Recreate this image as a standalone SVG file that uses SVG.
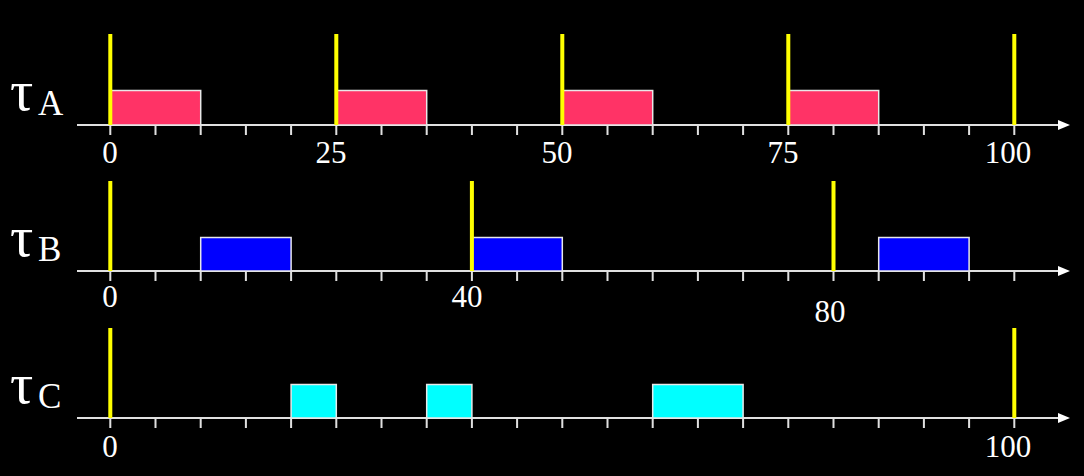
<svg xmlns="http://www.w3.org/2000/svg" width="1084" height="476" viewBox="0 0 1084 476">
<style>
.axis{stroke:#e0e0e0;stroke-width:2;fill:none}
.tick{stroke:#e0e0e0;stroke-width:2}
.rel{stroke:#ffff00;stroke-width:4}
.job{stroke:#e8e8e8;stroke-width:1.5}
.a{fill:#ff3366}.b{fill:#0000ff}.c{fill:#00ffff}
.num{font-family:"Liberation Serif",serif;font-size:31px;fill:#ffffff;text-anchor:middle}
.tau{font-family:"Liberation Serif","DejaVu Serif",serif;font-size:58px;fill:#ffffff}
.sub{font-family:"Liberation Serif",serif;font-size:35px;fill:#ffffff}
</style>
<defs>
<marker id="arr" viewBox="0 0 12 10" refX="0" refY="5" markerWidth="12" markerHeight="10" markerUnits="userSpaceOnUse" orient="auto">
<path d="M0,0 L12,5 L0,10 Z" fill="#ffffff"/>
</marker>
<g id="ticks">
<path class="tick" d="M110.3,0v10M155.5,0v10M200.7,0v10M245.9,0v10M291.1,0v10M336.3,0v10M381.5,0v10M426.7,0v10M471.9,0v10M517.1,0v10M562.3,0v10M607.5,0v10M652.7,0v10M697.9,0v10M743.1,0v10M788.3,0v10M833.5,0v10M878.7,0v10M923.9,0v10M969.1,0v10M1014.3,0v10"/>
</g>
</defs>
<rect width="1084" height="476" fill="#000000"/>
<g id="connectors">
<line class="axis" x1="77" y1="125" x2="1058" y2="125" marker-end="url(#arr)"/>
<line class="axis" x1="77" y1="271" x2="1058" y2="271" marker-end="url(#arr)"/>
<line class="axis" x1="77" y1="418" x2="1058" y2="418" marker-end="url(#arr)"/>
<use href="#ticks" y="125"/>
<use href="#ticks" y="271"/>
<use href="#ticks" y="418"/>
</g>
<g id="taskA">
<text class="tau" x="10" y="110">τ</text><text class="sub" x="38" y="115">A</text>
<rect class="job a" x="110.3" y="90.5" width="90.4" height="34.5"/>
<rect class="job a" x="336.3" y="90.5" width="90.4" height="34.5"/>
<rect class="job a" x="562.3" y="90.5" width="90.4" height="34.5"/>
<rect class="job a" x="788.3" y="90.5" width="90.4" height="34.5"/>
<path class="rel" d="M110.3,34V125M336.3,34V125M562.3,34V125M788.3,34V125M1014.3,34V125"/>
<text class="num" x="110" y="163">0</text>
<text class="num" x="331" y="163">25</text>
<text class="num" x="557" y="163">50</text>
<text class="num" x="783" y="163">75</text>
<text class="num" x="1008" y="163">100</text>
</g>
<g id="taskB">
<text class="tau" x="10" y="256">τ</text><text class="sub" x="38" y="261">B</text>
<rect class="job b" x="200.7" y="237.5" width="90.4" height="33.5"/>
<rect class="job b" x="471.9" y="237.5" width="90.4" height="33.5"/>
<rect class="job b" x="878.7" y="237.5" width="90.4" height="33.5"/>
<path class="rel" d="M110.3,181V271M471.9,181V271M833.5,181V271"/>
<text class="num" x="110" y="307">0</text>
<text class="num" x="467" y="307">40</text>
<text class="num" x="830" y="322">80</text>
</g>
<g id="taskC">
<text class="tau" x="10" y="403">τ</text><text class="sub" x="38" y="408">C</text>
<rect class="job c" x="291.1" y="384.5" width="45.2" height="33.5"/>
<rect class="job c" x="426.7" y="384.5" width="45.2" height="33.5"/>
<rect class="job c" x="652.7" y="384.5" width="90.4" height="33.5"/>
<path class="rel" d="M110.3,328V418M1014.3,328V418"/>
<text class="num" x="110" y="457">0</text>
<text class="num" x="1008" y="457">100</text>
</g>
</svg>
